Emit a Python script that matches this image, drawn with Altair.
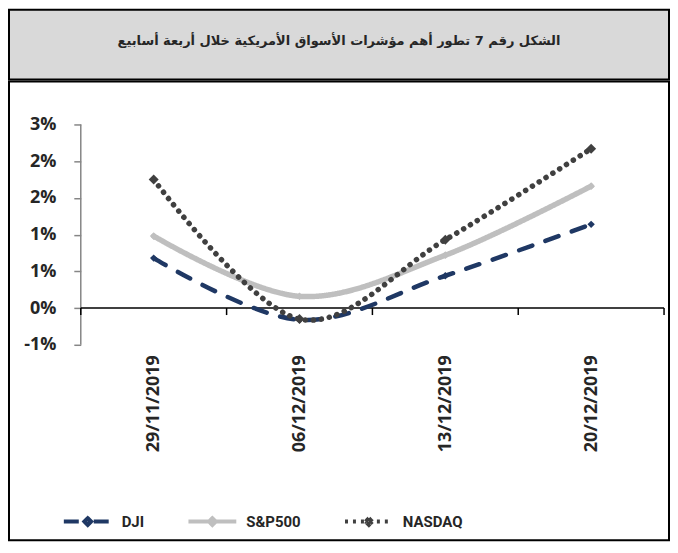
import altair as alt
import pandas as pd

# ---------------- data ----------------
dates = ["29/11/2019", "06/12/2019", "13/12/2019", "20/12/2019"]
series = ["DJI", "S&P500", "NASDAQ"]
dji = [0.68, -0.16, 0.44, 1.14]        # percent
sp500 = [0.98, 0.16, 0.72, 1.66]       # percent
nasdaq = [1.75, -0.15, 0.93, 2.17]     # percent
y_ticks = [-0.005, 0, 0.005, 0.01, 0.015, 0.02, 0.025]
y_labels = ["-1%", "0%", "1%", "1%", "2%", "2%", "3%"]
title_text = "الشكل رقم 7 تطور أهم مؤشرات الأسواق الأمريكية خلال أربعة أسابيع"

colors = ["#1F3864", "#BFBFBF", "#404040"]
line_dashes = [[14, 14], [1, 0], [0.1, 8]]
legend_dashes = [[15, 15], [1, 0], [3, 5]]
widths = [4.5, 5.5, 5.5]
marker_sizes = [55, 60, 100]

values = {"DJI": dji, "S&P500": sp500, "NASDAQ": nasdaq}
rows = []
for s in series:
    for i, d in enumerate(dates):
        rows.append({"series": s, "idx": i, "date": d, "value": values[s][i] / 100})
df = pd.DataFrame(rows)

n = len(dates)
bounds = [i - 0.5 for i in range(n)] + [n - 0.5]
ticks_df = pd.DataFrame({"x": bounds, "y": [0] * len(bounds)})
zero_df = pd.DataFrame({"x0": [bounds[0]], "x1": [bounds[-1]], "y": [0]})
yline_df = pd.DataFrame({"x": [bounds[0]], "y0": [min(y_ticks)], "y1": [max(y_ticks)]})
title_df = pd.DataFrame({"t": [title_text]})

# ---------------- scales / layout ----------------
W, H, TH = 662, 460, 70
xscale = alt.Scale(domain=[-0.9923, 3.534], nice=False, zero=False)
yscale = alt.Scale(domain=[-0.031606, 0.030837], nice=False, zero=False)

x_label_expr = "[" + ",".join("'%s'" % d for d in dates) + "][datum.value]"
y_label_expr = ("[" + ",".join("'%s'" % l for l in y_labels) + "][indexof(["
                + ",".join(str(v) for v in y_ticks) + "], datum.value)]")

x_axis = alt.Axis(values=list(range(n)), labelExpr=x_label_expr, labelAngle=270,
                  domain=False, ticks=False, tickSize=0, grid=False, offset=-186,
                  labelPadding=0, labelFont="Open Sans", labelFontSize=18,
                  labelFontWeight="bold", labelColor="#262626", title=None,
                  labelOverlap=False)
y_axis = alt.Axis(values=y_ticks, labelExpr=y_label_expr, domain=False,
                  ticks=True, tickColor="#868686", tickWidth=1.5, tickSize=7,
                  grid=False, offset=-72, labelPadding=18, labelFont="Open Sans",
                  labelFontSize=18, labelFontWeight="bold", labelColor="#262626",
                  title=None, labelOverlap=False)

# legend symbol: a horizontal line plus a small diamond built of short sub-paths
legend_symbol = ("M-1,0H1"
                 "M0,-0.14L0.14,0L0,0.14L-0.14,0Z"
                 "M0.14,0L0,0.14L-0.14,0"
                 "M0,0.14L-0.14,0L0,-0.14"
                 "M-0.14,0L0,-0.14L0.14,0"
                 "M0,0L0.07,0")
legend = alt.Legend(
    orient="none", legendX=53, legendY=487, direction="horizontal", columns=3,
    title=None, symbolType=legend_symbol,
    symbolSize=2304, symbolStrokeWidth=4, labelFont="Roboto",
    labelFontSize=15, labelFontWeight="bold", labelColor="#262626",
    labelOffset=8, columnPadding=36, padding=0,
)

color_scale = alt.Scale(domain=series, range=colors)


def X(field):
    return alt.X(field, scale=xscale, axis=x_axis)


def Y(field):
    return alt.Y(field, scale=yscale, axis=y_axis)


yline = alt.Chart(yline_df).mark_rule(color="#868686", strokeWidth=1.5).encode(
    x=X("x:Q"), y=Y("y0:Q"), y2="y1:Q",
)
zero = alt.Chart(zero_df).mark_rule(color="black", strokeWidth=1.5).encode(
    x=X("x0:Q"), x2="x1:Q", y=Y("y:Q"),
)
xticks = alt.Chart(ticks_df).mark_rule(color="black", strokeWidth=1.5, y2Offset=7).encode(
    x=X("x:Q"), y=Y("y:Q"), y2="y:Q",
)

# legend carrier (draws nothing; only builds the legend from the series list)
legend_layer = alt.Chart(df).transform_filter("false").mark_line().encode(
    x=X("idx:Q"),
    y=Y("value:Q"),
    color=alt.Color("series:N", scale=color_scale, legend=legend),
    strokeDash=alt.StrokeDash("series:N",
                              scale=alt.Scale(domain=series, range=legend_dashes),
                              legend=legend),
)

line_layers = []
point_layers = []
for s, c, dsh, w, sz in zip(series, colors, line_dashes, widths, marker_sizes):
    base = alt.Chart(df).transform_filter(alt.datum.series == s)
    line_layers.append(
        base.mark_line(interpolate="cardinal", strokeCap="round", strokeJoin="round",
                       color=c, strokeDash=dsh, strokeWidth=w)
        .encode(x=X("idx:Q"), y=Y("value:Q"))
    )
    point_layers.append(
        base.mark_point(shape="diamond", filled=True, opacity=1, size=sz, color=c)
        .encode(x=X("idx:Q"), y=Y("value:Q"))
    )

main = alt.layer(yline, zero, xticks, legend_layer, *line_layers, *point_layers).properties(
    width=W, height=H,
    view=alt.ViewBackground(fill="white", stroke="black", strokeWidth=2),
)

title_panel = alt.Chart(title_df).mark_text(
    font="DejaVu Sans", fontSize=13, fontWeight="bold", color="#262626", dy=-4
).encode(text="t:N").properties(
    width=W, height=TH,
    view=alt.ViewBackground(fill="#D9D9D9", stroke="black", strokeWidth=2),
)

chart = alt.vconcat(title_panel, main, spacing=0).properties(
    padding=0, background="white"
)

chart.save("out.html", embed_options={"renderer": "svg", "actions": False})
